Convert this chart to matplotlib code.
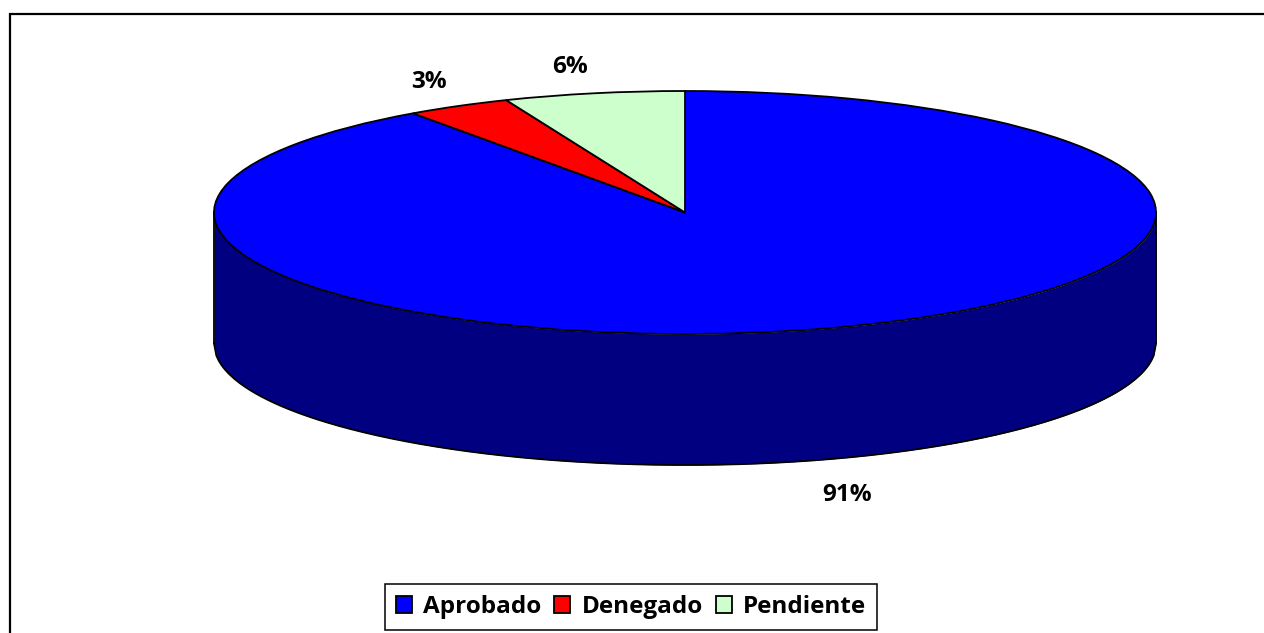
import numpy as np
import matplotlib
matplotlib.use("Agg")
import matplotlib.pyplot as plt
from matplotlib.lines import Line2D

categories = ["Aprobado", "Denegado", "Pendiente"]
shares = [90.2, 3.6, 6.2]
share_labels = ["91%", "3%", "6%"]
slice_colors = ["#0000ff", "#ff0000", "#ccffcc"]
side_color = "#000080"

W, H = 1264, 633
CX, CY = 685, 212.5     # centre of the top ellipse, pixels
RX, RY = 471, 121.5
DEPTH = 131 / RY

plt.rcParams["font.family"] = ["Open Sans", "DejaVu Sans"]
plt.rcParams["font.weight"] = "bold"

fig = plt.figure(figsize=(W / 100, H / 100), dpi=100)
ax = fig.add_axes([0, 0, 1, 1])

# side wall first, the pie goes on top
x = np.linspace(-1, 1, 400)
lower = -np.sqrt(1 - x ** 2)
ax.fill_between(x, lower, lower - DEPTH, color=side_color, lw=0, zorder=1)
ax.plot(x, lower - DEPTH, color="black", lw=1.3, zorder=2)
ax.plot([-1, -1], [0, -DEPTH], color="black", lw=1.3, zorder=2)
ax.plot([1, 1], [0, -DEPTH], color="black", lw=1.3, zorder=2)

wedges, _ = ax.pie(shares, colors=slice_colors, startangle=90, counterclock=False,
                   wedgeprops={"edgecolor": "black", "linewidth": 1.3, "zorder": 3})

# squash the circle into the ellipse
ax.set_aspect("auto")
ax.set_xlim((0 - CX) / RX, (W - CX) / RX)
ax.set_ylim((CY - H) / RY, CY / RY)
ax.axis("off")

# data labels, pixel positions
label_pos = [(847, 495), (429, 82), (570, 67)]
for txt, (px, py) in zip(share_labels, label_pos):
    fig.text(px / W, 1 - py / H, txt, ha="center", va="center", fontsize=17.5,
             fontweight="bold", color="black")

# chart area border: only top and left show
fig.add_artist(Line2D([9.5 / W, 9.5 / W, 1], [0, 1 - 14 / H, 1 - 14 / H],
                      color="black", lw=1.6, transform=fig.transFigure,
                      solid_joinstyle="miter"))

leg = ax.legend(wedges, categories, loc="center", ncol=3,
                bbox_to_anchor=(631 / W, 1 - 607 / H), bbox_transform=fig.transFigure,
                fontsize=17.5, frameon=True, fancybox=False, edgecolor="black",
                framealpha=1, handlelength=0.66, handleheight=0.66,
                handletextpad=0.45, columnspacing=0.56, borderpad=0.45,
                borderaxespad=0)
leg.get_frame().set_linewidth(1.1)
for t in leg.get_texts():
    t.set_fontweight("bold")

fig.savefig("out.png", dpi=100)
